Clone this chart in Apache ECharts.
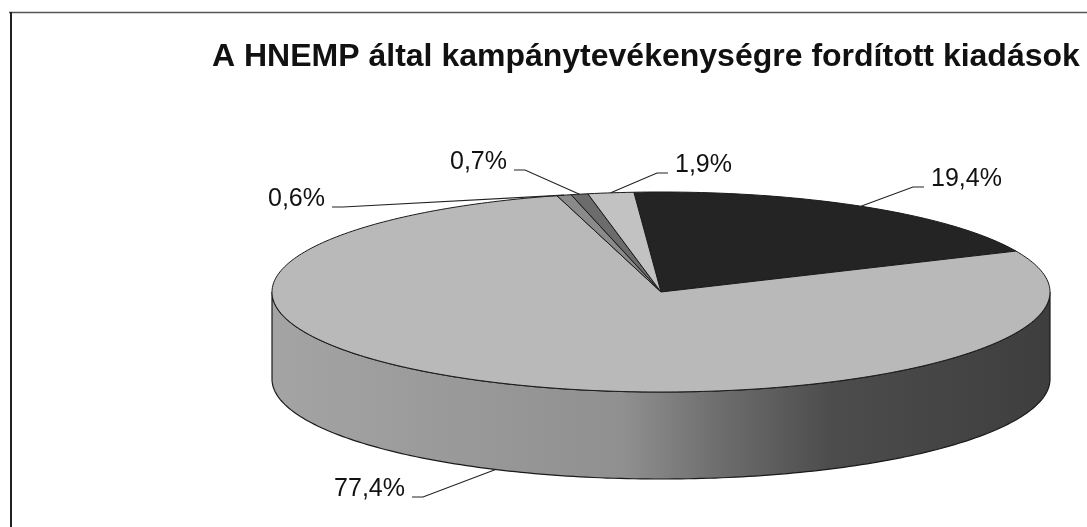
<!DOCTYPE html>
<html>
<head>
<meta charset="utf-8">
<script src="https://cdn.jsdelivr.net/npm/echarts@6/dist/echarts.min.js"></script>
<style>
    html, body { margin: 0; padding: 0; background: #fff; }
    #chart { width: 1087px; height: 527px; }
</style>
</head>
<body>
<div id="chart"></div>
<script>
// chart data
const titleText = 'A HNEMP által kampánytevékenységre fordított kiadások';
const sliceLabels = ['19,4%', '77,4%', '0,6%', '0,7%', '1,9%'];
const sliceValues = [19.4, 77.4, 0.6, 0.7, 1.9];

// layout of the tilted pie (ellipse centre, radii, thickness, start angle clockwise from top)
const pie = { cx: 661, cy: 292, rx: 389, ry: 100, depth: 87, start: -4 };
const topColors = ['#242424', '#b9b9b9', '#8a8a8a', '#6c6c6c', '#c2c2c2'];
// label text position: x, baseline y, which side of the leader the text sits on
const labelPlace = [
    [931, 187, 'right'],
    [405, 497, 'left'],
    [325, 207, 'left'],
    [507, 170, 'left'],
    [675, 173, 'right'],
];
const labelFont = '25px "Liberation Sans", Arial, sans-serif';

const total = sliceValues.reduce((p, c) => p + c, 0);

// start and end angle of a slice, from the data
function sliceAngles(idx, api) {
    let before = 0;
    for (let i = 0; i < idx; i++) before += sliceValues[i];
    const a = pie.start + before / total * 360;
    return [a, a + api.value(0) / total * 360];
}

function pt(deg, dy) {
    const r = deg * Math.PI / 180;
    return [pie.cx + pie.rx * Math.sin(r), pie.cy - pie.ry * Math.cos(r) + (dy || 0)];
}

function arc(a, b, dy) {
    const n = Math.max(2, Math.ceil(Math.abs(b - a)));
    const pts = [];
    for (let i = 0; i <= n; i++) pts.push(pt(a + (b - a) * i / n, dy));
    return pts;
}

const seriesData = sliceValues.map((v, i) => ({ name: sliceLabels[i], value: v }));

let chart = echarts.init(document.getElementById('chart'), null, { renderer: 'canvas' });

const option = {
    backgroundColor: '#fff',
    animation: false,
    title: {
        text: titleText,
        left: 212,
        top: 41,
        padding: 0,
        textStyle: {
            fontFamily: '"Liberation Sans", Arial, sans-serif',
            fontSize: 32,
            fontWeight: 'bold',
            color: '#111',
        },
    },
    graphic: [
        { type: 'line', shape: { x1: 9, y1: 12.5, x2: 1087, y2: 12.5 }, style: { stroke: '#555', lineWidth: 1.5 } },
        { type: 'line', shape: { x1: 11, y1: 12, x2: 11, y2: 527 }, style: { stroke: '#222', lineWidth: 2 } },
    ],
    series: [
        {
            // outer wall, only the front half is seen
            type: 'custom',
            coordinateSystem: 'none',
            data: seriesData,
            renderItem(params, api) {
                const [a, b] = sliceAngles(params.dataIndex, api);
                const s = Math.max(a, 90);
                const e = Math.min(b, 270);
                if (e <= s) return { type: 'group', children: [] };
                const pts = arc(s, e, 0).concat(arc(e, s, pie.depth));
                return {
                    type: 'polygon',
                    shape: { points: pts },
                    style: {
                        fill: new echarts.graphic.LinearGradient(0, 0, 1, 0, [
                            { offset: 0, color: '#a4a4a4' },
                            { offset: 0.45, color: '#909090' },
                            { offset: 0.58, color: '#6c6c6c' },
                            { offset: 0.72, color: '#4c4c4c' },
                            { offset: 1, color: '#3e3e3e' },
                        ]),
                        stroke: '#1a1a1a',
                        lineWidth: 1.2,
                    },
                };
            },
        },
        {
            // top faces
            type: 'custom',
            coordinateSystem: 'none',
            data: seriesData,
            renderItem(params, api) {
                const [a, b] = sliceAngles(params.dataIndex, api);
                const pts = [[pie.cx, pie.cy]].concat(arc(a, b, 0));
                return {
                    type: 'polygon',
                    shape: { points: pts },
                    style: {
                        fill: topColors[params.dataIndex],
                        stroke: '#1a1a1a',
                        lineWidth: 1,
                    },
                };
            },
        },
        {
            // labels with leader lines
            type: 'custom',
            coordinateSystem: 'none',
            data: seriesData,
            renderItem(params, api) {
                const [a, b] = sliceAngles(params.dataIndex, api);
                const mid = (a + b) / 2;
                const front = Math.cos(mid * Math.PI / 180) < 0;
                const anchor = pt(mid, front ? pie.depth : 0);
                const [tx, ty, side] = labelPlace[params.dataIndex];
                const dir = side === 'left' ? 1 : -1;
                const p1 = [tx + dir * 7, ty];
                const p2 = [tx + dir * 18, ty];
                return {
                    type: 'group',
                    children: [
                        {
                            type: 'polyline',
                            shape: { points: [p1, p2, anchor] },
                            style: { stroke: '#222', lineWidth: 1.1, fill: null },
                        },
                        {
                            type: 'text',
                            x: tx,
                            y: ty + 5,
                            style: {
                                text: sliceLabels[params.dataIndex],
                                font: labelFont,
                                fill: '#111',
                                align: side === 'left' ? 'right' : 'left',
                                verticalAlign: 'bottom',
                            },
                        },
                    ],
                };
            },
        },
    ],
};

chart.setOption(option);
</script>
</body>
</html>
